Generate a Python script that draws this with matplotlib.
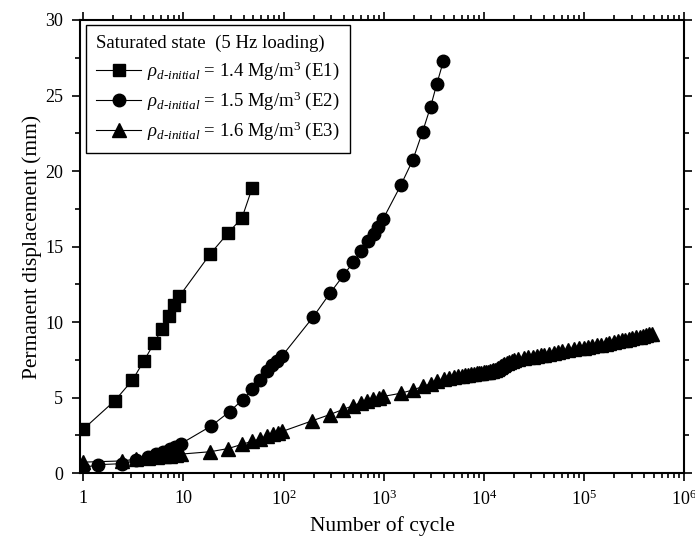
import matplotlib
matplotlib.use("Agg")
import matplotlib.pyplot as plt
from matplotlib.ticker import MultipleLocator, LogLocator, FixedLocator, FixedFormatter

plt.rcParams['font.family'] = ['Liberation Serif', 'DejaVu Serif']
plt.rcParams['mathtext.fontset'] = 'custom'
plt.rcParams['mathtext.rm'] = 'Liberation Serif'
plt.rcParams['mathtext.it'] = 'Liberation Serif:italic'
plt.rcParams['mathtext.bf'] = 'Liberation Serif:bold'

# ---- data ----
e1_n = [1, 2.07, 3.1, 4.05, 5.1, 6.1, 7.1, 8.0, 9.1, 18.5, 28, 38.5, 48.5]
e1_v = [2.9, 4.8, 6.15, 7.45, 8.6, 9.55, 10.4, 11.1, 11.7, 14.5, 15.9, 16.9, 18.85]

e2_n = [1, 1.4, 2.45, 3.4, 4.4, 5.3, 6.3, 7.3, 8.3, 9.4, 19, 29, 39, 49, 58, 68,
        77, 87, 97, 196, 293, 396, 497, 600, 695, 795, 885, 990, 1480, 1960,
        2450, 2950, 3400, 3950]
e2_v = [0.35, 0.55, 0.62, 0.83, 1.07, 1.25, 1.42, 1.6, 1.75, 1.93, 3.12, 4.07,
        4.85, 5.55, 6.15, 6.77, 7.15, 7.45, 7.76, 10.3, 11.93, 13.08, 13.96,
        14.69, 15.35, 15.84, 16.28, 16.83, 19.04, 20.74, 22.6, 24.27, 25.77,
        27.27]

e3_n = [1, 2.45, 3.4, 4.4, 5.4, 6.4, 7.4, 8.4, 9.4, 18.6, 28, 38.6, 48.5, 58,
        68, 79, 88, 97, 192, 290, 390, 490, 590, 690, 790, 890, 990, 1480,
        1960, 2450, 2950, 3450,
        4000, 4500, 5000, 5500, 6000, 6500, 7000, 7500, 8000, 8500, 9000,
        9500, 10000, 10500, 11000, 11500, 12000, 12500, 13000, 13500, 14000,
        14500, 15000, 15500, 16000, 17000, 18000, 19000, 20000, 22000, 25000,
        28000, 31000, 34000, 37000, 40000, 45000, 50000, 55000, 60000, 70000,
        80000, 90000, 100000, 110000, 120000, 135000, 150000, 165000, 180000,
        200000, 220000, 240000, 260000, 280000, 300000, 330000, 360000,
        390000, 420000, 450000, 480000]
e3_v = [0.72, 0.8, 0.92, 1.0, 1.06, 1.1, 1.15, 1.2, 1.25, 1.41, 1.62, 1.9,
        2.1, 2.25, 2.42, 2.57, 2.68, 2.75, 3.45, 3.87, 4.2, 4.45, 4.65, 4.8,
        4.92, 5.0, 5.07, 5.28, 5.5, 5.73, 5.9, 6.06,
        6.2, 6.28, 6.35, 6.40, 6.44, 6.48, 6.52, 6.55, 6.58, 6.60, 6.63,
        6.65, 6.67, 6.70, 6.72, 6.75, 6.77, 6.80, 6.82, 6.86, 6.93,
        7.01, 7.09, 7.16, 7.21, 7.30, 7.37, 7.43, 7.48, 7.56, 7.63,
        7.67, 7.71, 7.76, 7.80, 7.84, 7.90, 7.95, 8.00, 8.05, 8.12,
        8.19, 8.25, 8.30, 8.35, 8.40, 8.46, 8.51, 8.57, 8.62,
        8.68, 8.74, 8.79, 8.84, 8.88, 8.92, 8.98, 9.03,
        9.09, 9.13, 9.18, 9.22]

labels = [r'$\rho_{d‐initial}$ = 1.4 Mg/m$^3$ (E1)',
          r'$\rho_{d‐initial}$ = 1.5 Mg/m$^3$ (E2)',
          r'$\rho_{d‐initial}$ = 1.6 Mg/m$^3$ (E3)']
legend_title = 'Saturated state  (5 Hz loading)'
xtick_vals = [1, 10, 100, 1000, 10000, 100000, 1000000]
xtick_labels = ['1', '10', r'10$^2$', r'10$^3$', r'10$^4$', r'10$^5$', r'10$^6$']

fig = plt.figure(figsize=(6.95, 5.42), dpi=100)
ax = fig.add_axes([0.1151, 0.1273, 0.8690, 0.8358])

lw = 0.8
ax.plot(e1_n, e1_v, '-', color='black', lw=lw, marker='s', ms=8.2,
        label=labels[0])
ax.plot(e2_n, e2_v, '-', color='black', lw=lw, marker='o', ms=9.0,
        label=labels[1])
ax.plot(e3_n, e3_v, '-', color='black', lw=lw, marker='^', ms=10,
        label=labels[2])

ax.set_xscale('log')
ax.set_xlim(0.927, 1e6)
ax.set_ylim(0, 30)

ax.xaxis.set_major_locator(FixedLocator(xtick_vals))
ax.xaxis.set_major_formatter(FixedFormatter(xtick_labels))
ax.xaxis.set_minor_locator(LogLocator(base=10, subs=range(2, 10), numticks=20))
ax.yaxis.set_major_locator(MultipleLocator(5))
ax.yaxis.set_minor_locator(MultipleLocator(2.5))

for sp in ax.spines.values():
    sp.set_linewidth(1.5)

ax.tick_params(which='both', direction='out', top=True, right=True,
               labelsize=13, width=1.2, pad=6)
ax.tick_params(which='major', length=6)
ax.tick_params(which='minor', length=3.5)

ax.set_xlabel('Number of cycle', fontsize=15.5, labelpad=5)
ax.set_ylabel('Permanent displacement (mm)', fontsize=15.5, labelpad=2)

leg = ax.legend(loc='upper left', bbox_to_anchor=(0.01, 0.99),
                borderaxespad=0, fontsize=13.5, title=legend_title,
                title_fontsize=13.5, alignment='left', fancybox=False,
                edgecolor='black', framealpha=1, handlelength=2.4,
                handletextpad=0.3, labelspacing=0.4, borderpad=0.55)
leg.get_frame().set_linewidth(1.0)

fig.savefig('out.png', dpi=100)
